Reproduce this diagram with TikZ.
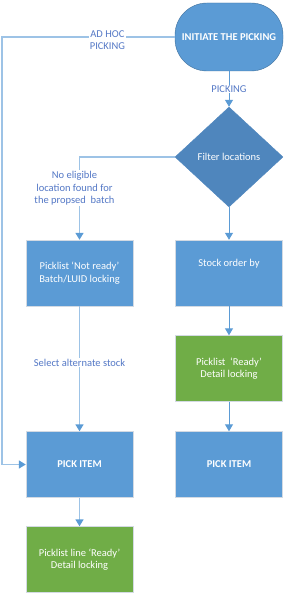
\documentclass[tikz,border=0pt]{standalone}
\usepackage{fontspec}
\setmainfont{Carlito}
\usetikzlibrary{positioning, arrows.meta, shapes.geometric}
\definecolor{boxblue}{HTML}{5B9BD5}
\definecolor{darkblue}{HTML}{41719C}
\definecolor{diamondblue}{HTML}{4F86BD}
\definecolor{boxgreen}{HTML}{70AD47}
\definecolor{paleblue}{HTML}{9DC3E6}
\definecolor{labelblue}{HTML}{5478C6}
\definecolor{boxedge}{HTML}{D3DAE3}

\begin{document}
\begin{tikzpicture}[x=1pt, y=-1pt, font=\fontsize{10.5}{12.5}\selectfont,
    process/.style={draw=boxedge, fill=boxblue, text=white, align=center, minimum width=107pt, minimum height=66pt, inner sep=2pt},
    readybox/.style={process, fill=boxgreen},
    flowtip/.style={-{Triangle[width=8pt, length=7pt, color=boxblue]}},
    flowstrong/.style={flowtip, draw=boxblue, line width=1pt},
    flowpale/.style={flowtip, draw=paleblue, line width=1.6pt},
    lbl/.style={text=labelblue, fill=white, align=center, inner sep=1pt}]
    \useasboundingbox (0,0) rectangle (288,601);

    % top of the flow
    \node[draw=darkblue, fill=boxblue, text=white, font=\fontsize{10.5}{12.5}\selectfont\bfseries, rounded corners=32pt, minimum width=108pt, minimum height=68pt, inner sep=0pt] (start) at (229, 37) {INITIATE THE PICKING};
    \node[diamond, draw=diamondblue, fill=diamondblue, text=white, aspect=1.08, minimum width=108pt, minimum height=100pt, inner sep=0pt] (filter) at (229, 157) {Filter locations};

    % left branch
    \node[process] (notready) at (79.5, 273) {Picklist `Not ready'\\Batch/LUID locking};
    \node[process, font=\fontsize{10.5}{12.5}\selectfont\bfseries] (pickleft) at (79.5, 464.5) {PICK ITEM};
    \node[readybox] (lineready) at (79.5, 559.5) {Picklist line `Ready'\\Detail locking};

    % right branch
    \node[process] (stockorder) at (229, 273) {Stock order by\\[8pt]};
    \node[readybox] (listready) at (229, 368.5) {Picklist~ `Ready'\\Detail locking};
    \node[process, font=\fontsize{10.5}{12.5}\selectfont\bfseries] (pickright) at (229, 464.5) {PICK ITEM};

    \coordinate (adhocturn) at (2, 37);

    \draw[flowstrong] (start.south) -- node (pickinglbl) [lbl] {PICKING} (filter.north);
    \draw[flowstrong] (filter.south) -- (stockorder.north);
    \draw[flowstrong] (stockorder.south) -- (listready.north);
    \draw[flowstrong] (listready.south) -- (pickright.north);

    \draw[flowpale] (filter.west) -| node (noeligible) [lbl, pos=0.69, xshift=-5pt] {No eligible\\location found for\\the propsed~ batch} (notready.north);
    \draw[flowpale] (notready.south) -- node (altstock) [lbl, pos=0.45] {Select alternate stock} (pickleft.north);
    \draw[flowpale] (pickleft.south) -- (lineready.north);
    \draw[flowpale] (start.west) -- node (adhoclbl) [lbl, pos=0.39, yshift=-3pt] {AD HOC\\PICKING} (adhocturn) |- (pickleft.west);
\end{tikzpicture}
\end{document}
